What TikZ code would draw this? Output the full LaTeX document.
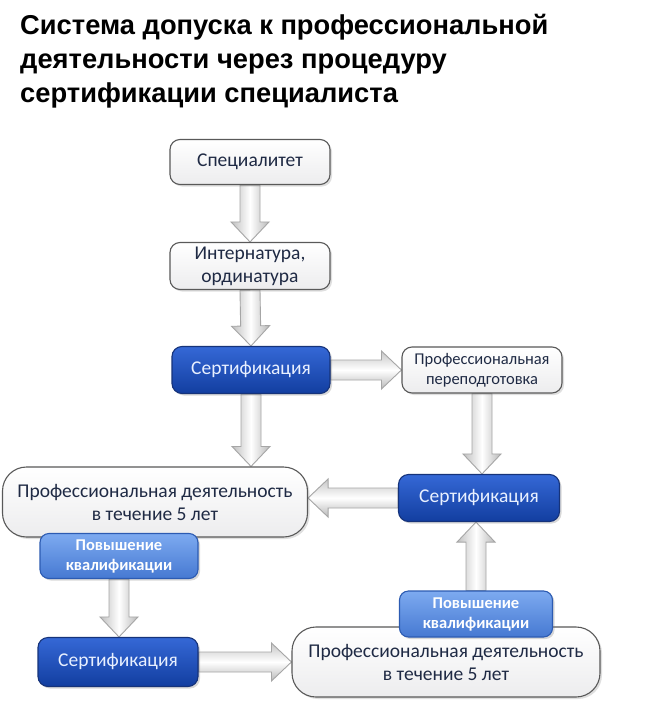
\documentclass[tikz,border=0pt]{standalone}
\usepackage{fontspec}
\setmainfont{Carlito}
\newfontfamily\titlefont{Liberation Sans}
\usetikzlibrary{calc,shadows,backgrounds}
\definecolor{navy}{HTML}{1F2A44}
\definecolor{dbtop}{HTML}{3568D6}
\definecolor{dbbot}{HTML}{123EA0}
\definecolor{dbline}{HTML}{16337A}
\definecolor{lbtop}{HTML}{7DAAF0}
\definecolor{lbbot}{HTML}{4679D2}
\definecolor{lbline}{HTML}{2C5BB2}
\definecolor{dbtext}{HTML}{E8F0FF}
\tikzset{
  whitebox/.style={draw=gray!70!black, line width=1.1pt, rounded corners=10pt,
    top color=white, bottom color=blue!4!gray!14, text=navy, align=center,
    drop shadow={shadow xshift=2pt, shadow yshift=-2pt, opacity=0.25},
    inner sep=2pt},
  bluebox/.style={draw=dbline, line width=1.1pt, rounded corners=10pt,
    top color=dbtop, bottom color=dbbot, text=dbtext, align=center,
    drop shadow={shadow xshift=2pt, shadow yshift=-2pt, opacity=0.3},
    font=\fontsize{19.5}{23}\selectfont},
  lightbox/.style={draw=lbline, line width=1.1pt, rounded corners=9pt,
    top color=lbtop, bottom color=lbbot, text=white, align=center,
    drop shadow={shadow xshift=2pt, shadow yshift=-2pt, opacity=0.3},
    font=\bfseries\fontsize{16.5}{20}\selectfont},
  barrow/.style={draw=gray!70, line width=0.9pt, line join=miter},
  vshade/.style={left color=gray!50, right color=gray!55, middle color=white},
  hshade/.style={top color=gray!45, bottom color=gray!55, middle color=white},
}
\newcommand\blockarrow[3]{%
  \coordinate (ba-s) at #1;
  \coordinate (ba-e) at #2;
  \coordinate (ba-h) at ($(ba-e)!20pt!(ba-s)$);
  \path[barrow,#3] ($(ba-s)!10pt!90:(ba-e)$) -- ($(ba-h)!10pt!90:(ba-e)$)
    -- ($(ba-h)!19pt!90:(ba-e)$) -- (ba-e) -- ($(ba-h)!19pt!-90:(ba-e)$)
    -- ($(ba-h)!10pt!-90:(ba-e)$) -- ($(ba-s)!10pt!-90:(ba-e)$) -- cycle;}
\begin{document}
\begin{tikzpicture}[x=1pt,y=-1pt]
\useasboundingbox (0,0) rectangle (645,725);
\node[anchor=north west, inner sep=0pt, align=left,
  font=\titlefont\bfseries\fontsize{27.3}{34}\selectfont] (title) at (20,14)
  {Система допуска к профессиональной\\деятельности через процедуру\\сертификации специалиста};

\node[whitebox, minimum width=160pt, minimum height=45pt, font=\fontsize{19.5}{23}\selectfont] (n1) at (250,162) {Специалитет};
\node[whitebox, minimum width=160pt, minimum height=47pt, font=\fontsize{19.5}{23}\selectfont] (n2) at (250,266) {Интернатура,\\ординатура};
\node[bluebox, minimum width=158pt, minimum height=47pt] (n3) at (251,370) {Сертификация};
\node[whitebox, minimum width=160pt, minimum height=46pt, font=\fontsize{16.5}{20}\selectfont] (n4) at (482,370) {Профессиональная\\переподготовка};
\node[whitebox, minimum width=305pt, minimum height=70pt, rounded corners=24pt, font=\fontsize{19.5}{23}\selectfont] (n5) at (155,502) {Профессиональная деятельность\\в течение 5 лет};
\node[bluebox, minimum width=161pt, minimum height=47pt] (n6) at (479,498) {Сертификация};
\node[bluebox, minimum width=160pt, minimum height=49pt] (n8) at (118,662) {Сертификация};
\node[whitebox, minimum width=308pt, minimum height=70pt, rounded corners=24pt, font=\fontsize{19.5}{23}\selectfont] (n9) at (446,662) {Профессиональная деятельность\\в течение 5 лет};
\node[lightbox, minimum width=158pt, minimum height=45pt] (n7) at (119,556) {Повышение\\квалификации};
\node[lightbox, minimum width=153pt, minimum height=46pt] (n10) at (476,614) {Повышение\\квалификации};

\begin{scope}[on background layer]
\fill[white] (0,0) rectangle (645,725);
\blockarrow{(n1.south)}{(n2.north)}{vshade}
\blockarrow{(n2.south)}{(n3.north)}{vshade}
\blockarrow{(n3.east)}{(n4.west)}{hshade}
\blockarrow{(n3.south)}{(n3.south |- n5.north)}{vshade}
\blockarrow{(n4.south)}{(n4.south |- n6.north)}{vshade}
\blockarrow{(n6.west)}{(n6.west -| n5.east)}{hshade}
\blockarrow{(n7.south)}{(n7.south |- n8.north)}{vshade}
\blockarrow{(n8.east)}{(n8.east -| n9.west)}{hshade}
\blockarrow{(n10.north)}{(n10.north |- n6.south)}{vshade}
\end{scope}
\end{tikzpicture}
\end{document}
